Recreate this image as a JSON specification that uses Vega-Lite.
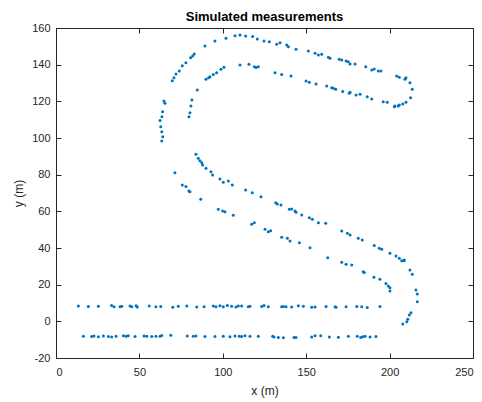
{
  "$schema": "https://vega.github.io/schema/vega-lite/v6.json",
  "width": 417,
  "height": 330,
  "autosize": "none",
  "padding": {"left": 56, "top": 28, "right": 9, "bottom": 44},
  "title": {
    "text": "Simulated measurements",
    "font": "Liberation Sans",
    "fontSize": 13,
    "fontWeight": "bold",
    "color": "#000000",
    "anchor": "middle",
    "offset": -2
  },
  "config": {
    "view": {"stroke": "#262626", "strokeWidth": 1},
    "axis": {
      "domain": false,
      "grid": false,
      "ticks": true,
      "tickSize": -5,
      "tickColor": "#262626",
      "labelFont": "Liberation Sans",
      "labelFontSize": 11,
      "labelColor": "#262626",
      "labelExpr": "'' + datum.value",
      "titleFont": "Liberation Sans",
      "titleFontSize": 12,
      "titleFontWeight": "normal",
      "titleColor": "#262626"
    }
  },
  "data": {
    "values": [
      {"x": 13.4, "y": 8.4}, {"x": 19.4, "y": 8.1}, {"x": 25.4, "y": 8.2}, {"x": 33.3, "y": 8.6},
      {"x": 34.8, "y": 8.0}, {"x": 38.4, "y": 7.9}, {"x": 39.4, "y": 8.2}, {"x": 44.4, "y": 8.3},
      {"x": 45.4, "y": 8.0}, {"x": 48.0, "y": 8.5}, {"x": 48.7, "y": 7.8}, {"x": 55.9, "y": 8.4},
      {"x": 59.9, "y": 8.0}, {"x": 62.8, "y": 8.1}, {"x": 70.0, "y": 7.7}, {"x": 73.3, "y": 8.2},
      {"x": 78.4, "y": 8.3}, {"x": 84.4, "y": 7.8}, {"x": 88.8, "y": 7.9}, {"x": 94.3, "y": 8.3},
      {"x": 95.9, "y": 8.0}, {"x": 98.3, "y": 8.5}, {"x": 100.3, "y": 7.9}, {"x": 102.7, "y": 8.6},
      {"x": 105.3, "y": 8.2}, {"x": 107.9, "y": 7.8}, {"x": 109.3, "y": 8.3}, {"x": 111.3, "y": 8.4},
      {"x": 115.3, "y": 7.9}, {"x": 116.3, "y": 8.2}, {"x": 123.3, "y": 8.1}, {"x": 124.7, "y": 8.6},
      {"x": 127.3, "y": 7.9}, {"x": 135.3, "y": 8.0}, {"x": 136.3, "y": 8.1}, {"x": 137.9, "y": 7.9},
      {"x": 141.3, "y": 7.8}, {"x": 145.3, "y": 8.5}, {"x": 148.3, "y": 8.2}, {"x": 153.3, "y": 7.7},
      {"x": 155.3, "y": 7.8}, {"x": 161.9, "y": 8.1}, {"x": 167.3, "y": 8.0}, {"x": 167.9, "y": 7.7},
      {"x": 173.9, "y": 8.0}, {"x": 180.3, "y": 8.1}, {"x": 183.3, "y": 8.0}, {"x": 186.6, "y": 7.6},
      {"x": 194.2, "y": 8.1},

      {"x": 16.4, "y": -8.1}, {"x": 21.4, "y": -8.3}, {"x": 22.8, "y": -8.0}, {"x": 25.4, "y": -8.4},
      {"x": 28.4, "y": -8.0}, {"x": 31.4, "y": -8.3}, {"x": 33.4, "y": -8.6}, {"x": 36.0, "y": -8.2},
      {"x": 40.4, "y": -7.9}, {"x": 42.0, "y": -8.2}, {"x": 43.3, "y": -7.8}, {"x": 47.4, "y": -8.3},
      {"x": 52.8, "y": -8.0}, {"x": 54.4, "y": -8.2}, {"x": 57.4, "y": -8.3}, {"x": 59.9, "y": -8.1},
      {"x": 62.4, "y": -8.2}, {"x": 63.4, "y": -7.7}, {"x": 68.8, "y": -7.6}, {"x": 78.7, "y": -8.0},
      {"x": 82.3, "y": -8.2}, {"x": 83.9, "y": -8.0}, {"x": 89.3, "y": -8.3}, {"x": 95.3, "y": -8.3},
      {"x": 100.3, "y": -8.1}, {"x": 104.3, "y": -8.4}, {"x": 107.3, "y": -8.0}, {"x": 109.9, "y": -8.1},
      {"x": 111.3, "y": -8.3}, {"x": 113.3, "y": -7.9}, {"x": 116.3, "y": -8.2}, {"x": 121.3, "y": -8.1},
      {"x": 129.9, "y": -8.2}, {"x": 130.7, "y": -8.6}, {"x": 133.3, "y": -8.8}, {"x": 136.3, "y": -8.9},
      {"x": 142.7, "y": -8.8}, {"x": 143.9, "y": -8.8}, {"x": 153.3, "y": -8.5}, {"x": 155.3, "y": -7.9},
      {"x": 158.7, "y": -7.9}, {"x": 163.9, "y": -8.6}, {"x": 169.3, "y": -8.7}, {"x": 175.3, "y": -8.1},
      {"x": 180.6, "y": -8.2}, {"x": 182.7, "y": -8.8}, {"x": 183.9, "y": -8.4}, {"x": 185.3, "y": -8.2},
      {"x": 188.3, "y": -8.6}, {"x": 191.8, "y": -8.3},

      {"x": 207.9, "y": -1.5}, {"x": 210.3, "y": -0.2}, {"x": 210.9, "y": 1.1}, {"x": 211.8, "y": 3.5},
      {"x": 212.8, "y": 4.7}, {"x": 216.6, "y": 10.7}, {"x": 216.6, "y": 14.9}, {"x": 215.8, "y": 17.1},
      {"x": 213.6, "y": 25.7}, {"x": 212.2, "y": 28.0}, {"x": 208.6, "y": 33.1}, {"x": 207.3, "y": 33.1},
      {"x": 208.8, "y": 33.5},

      {"x": 200.2, "y": 16.5}, {"x": 200.2, "y": 18.3}, {"x": 199.2, "y": 19.3}, {"x": 197.8, "y": 20.7},
      {"x": 194.2, "y": 22.9}, {"x": 190.6, "y": 24.0}, {"x": 184.8, "y": 26.7}, {"x": 184.2, "y": 27.1},
      {"x": 177.3, "y": 30.7}, {"x": 173.9, "y": 31.1}, {"x": 171.3, "y": 32.2}, {"x": 162.9, "y": 34.7},
      {"x": 152.3, "y": 40.2}, {"x": 145.9, "y": 42.9}, {"x": 140.3, "y": 43.8}, {"x": 138.7, "y": 45.3},
      {"x": 135.3, "y": 45.8}, {"x": 128.7, "y": 49.4}, {"x": 127.3, "y": 48.9}, {"x": 125.3, "y": 50.2},
      {"x": 118.9, "y": 53.8}, {"x": 117.3, "y": 52.9}, {"x": 106.3, "y": 57.8}, {"x": 101.3, "y": 59.8},
      {"x": 99.9, "y": 60.2}, {"x": 97.3, "y": 61.1}, {"x": 86.8, "y": 66.6}, {"x": 80.3, "y": 70.7},
      {"x": 79.7, "y": 71.1}, {"x": 77.9, "y": 73.5}, {"x": 75.7, "y": 74.4}, {"x": 71.3, "y": 81.1},

      {"x": 205.8, "y": 34.4}, {"x": 203.8, "y": 35.6}, {"x": 200.2, "y": 37.1}, {"x": 195.3, "y": 39.3},
      {"x": 193.8, "y": 39.8}, {"x": 190.8, "y": 41.3}, {"x": 183.6, "y": 44.4}, {"x": 181.2, "y": 45.3},
      {"x": 176.3, "y": 47.1}, {"x": 174.7, "y": 48.0}, {"x": 171.3, "y": 49.3}, {"x": 161.7, "y": 53.5},
      {"x": 157.3, "y": 53.8}, {"x": 153.7, "y": 55.7}, {"x": 151.9, "y": 56.5}, {"x": 147.3, "y": 58.0},
      {"x": 143.9, "y": 59.5}, {"x": 143.3, "y": 60.2}, {"x": 141.3, "y": 61.3}, {"x": 139.9, "y": 61.1},
      {"x": 134.9, "y": 63.5}, {"x": 132.7, "y": 64.0}, {"x": 131.7, "y": 64.7}, {"x": 122.9, "y": 68.0},
      {"x": 117.7, "y": 70.2}, {"x": 113.7, "y": 71.6}, {"x": 105.7, "y": 74.4}, {"x": 103.3, "y": 76.5},
      {"x": 100.3, "y": 75.8}, {"x": 98.3, "y": 77.6}, {"x": 93.9, "y": 79.8}, {"x": 92.9, "y": 81.6},
      {"x": 89.9, "y": 83.5}, {"x": 87.9, "y": 85.3}, {"x": 87.4, "y": 86.5}, {"x": 86.3, "y": 87.6},
      {"x": 85.3, "y": 88.9}, {"x": 83.9, "y": 91.1},

      {"x": 63.4, "y": 98.4}, {"x": 64.0, "y": 100.7}, {"x": 63.4, "y": 103.4}, {"x": 62.8, "y": 106.2},
      {"x": 62.4, "y": 109.6}, {"x": 63.5, "y": 111.6}, {"x": 63.9, "y": 114.3}, {"x": 65.3, "y": 118.9},
      {"x": 64.7, "y": 120.2}, {"x": 69.7, "y": 131.2}, {"x": 70.7, "y": 132.9}, {"x": 71.9, "y": 134.9},
      {"x": 73.9, "y": 136.5}, {"x": 75.7, "y": 139.4}, {"x": 77.9, "y": 141.1}, {"x": 80.7, "y": 143.8},
      {"x": 81.9, "y": 144.7}, {"x": 82.9, "y": 145.8}, {"x": 89.3, "y": 150.2}, {"x": 95.3, "y": 152.9},
      {"x": 101.9, "y": 154.4}, {"x": 107.3, "y": 155.8}, {"x": 110.3, "y": 156.2}, {"x": 113.7, "y": 155.6},
      {"x": 117.9, "y": 155.3}, {"x": 120.7, "y": 154.0}, {"x": 124.7, "y": 152.9}, {"x": 127.9, "y": 152.5},
      {"x": 132.3, "y": 151.1}, {"x": 134.3, "y": 152.0}, {"x": 138.3, "y": 150.7}, {"x": 139.3, "y": 149.8},
      {"x": 143.9, "y": 148.4}, {"x": 151.3, "y": 147.5}, {"x": 155.3, "y": 146.2}, {"x": 157.3, "y": 145.3},
      {"x": 159.3, "y": 145.7}, {"x": 163.3, "y": 144.0}, {"x": 164.3, "y": 143.5}, {"x": 169.8, "y": 142.9},
      {"x": 171.3, "y": 142.5}, {"x": 173.9, "y": 142.0}, {"x": 175.2, "y": 141.6}, {"x": 176.3, "y": 140.4},
      {"x": 179.3, "y": 140.4}, {"x": 185.7, "y": 138.9}, {"x": 189.3, "y": 137.1}, {"x": 190.8, "y": 137.6},
      {"x": 193.2, "y": 136.5}, {"x": 194.8, "y": 136.5}, {"x": 204.2, "y": 133.8}, {"x": 205.8, "y": 133.1},
      {"x": 209.2, "y": 132.0}, {"x": 209.8, "y": 132.9}, {"x": 212.2, "y": 130.2}, {"x": 213.6, "y": 126.6},
      {"x": 212.6, "y": 122.0},

      {"x": 209.8, "y": 119.5}, {"x": 207.9, "y": 118.5}, {"x": 205.8, "y": 118.0}, {"x": 205.2, "y": 117.5},
      {"x": 203.2, "y": 117.5}, {"x": 202.8, "y": 117.1}, {"x": 198.6, "y": 119.5}, {"x": 196.2, "y": 119.8},
      {"x": 189.3, "y": 121.3}, {"x": 186.6, "y": 122.5}, {"x": 182.3, "y": 123.8}, {"x": 179.9, "y": 123.5},
      {"x": 176.3, "y": 124.9}, {"x": 175.8, "y": 124.4}, {"x": 171.9, "y": 125.3}, {"x": 167.7, "y": 126.6},
      {"x": 166.3, "y": 127.1}, {"x": 165.3, "y": 127.4}, {"x": 162.3, "y": 128.4}, {"x": 155.9, "y": 129.5},
      {"x": 151.9, "y": 130.4}, {"x": 149.9, "y": 131.1}, {"x": 140.9, "y": 133.8}, {"x": 135.3, "y": 134.7},
      {"x": 131.3, "y": 135.6}, {"x": 121.3, "y": 138.9}, {"x": 119.9, "y": 138.4}, {"x": 118.9, "y": 138.9},
      {"x": 115.7, "y": 140.2}, {"x": 110.3, "y": 139.8}, {"x": 100.7, "y": 138.6}, {"x": 98.9, "y": 137.5},
      {"x": 96.3, "y": 135.6}, {"x": 94.3, "y": 134.7}, {"x": 92.3, "y": 133.4}, {"x": 91.5, "y": 132.9},
      {"x": 89.9, "y": 132.0}, {"x": 84.7, "y": 126.2}, {"x": 81.5, "y": 120.7}, {"x": 80.9, "y": 117.5},
      {"x": 80.3, "y": 113.8}, {"x": 79.7, "y": 111.6}
    ]
  },
  "layer": [
    {
      "mark": {"type": "point", "filled": true, "size": 9, "color": "#0072bd", "opacity": 1},
      "encoding": {
        "x": {
          "field": "x", "type": "quantitative",
          "scale": {"domain": [0, 250], "nice": false, "zero": false},
          "axis": {"values": [0, 50, 100, 150, 200, 250], "title": "x (m)", "orient": "bottom", "labelPadding": 13, "titlePadding": 8}
        },
        "y": {
          "field": "y", "type": "quantitative",
          "scale": {"domain": [-20, 160], "nice": false, "zero": false},
          "axis": {"values": [-20, 0, 20, 40, 60, 80, 100, 120, 140, 160], "title": "y (m)", "orient": "left", "labelPadding": 11, "titlePadding": 6}
        }
      }
    },
    {
      "mark": {"type": "point", "opacity": 0},
      "encoding": {
        "x": {
          "field": "x", "type": "quantitative",
          "axis": {"values": [0, 50, 100, 150, 200, 250], "orient": "top", "labels": false, "title": null}
        },
        "y": {
          "field": "y", "type": "quantitative",
          "axis": {"values": [-20, 0, 20, 40, 60, 80, 100, 120, 140, 160], "orient": "right", "labels": false, "title": null}
        }
      }
    }
  ],
  "resolve": {"axis": {"x": "independent", "y": "independent"}}
}
